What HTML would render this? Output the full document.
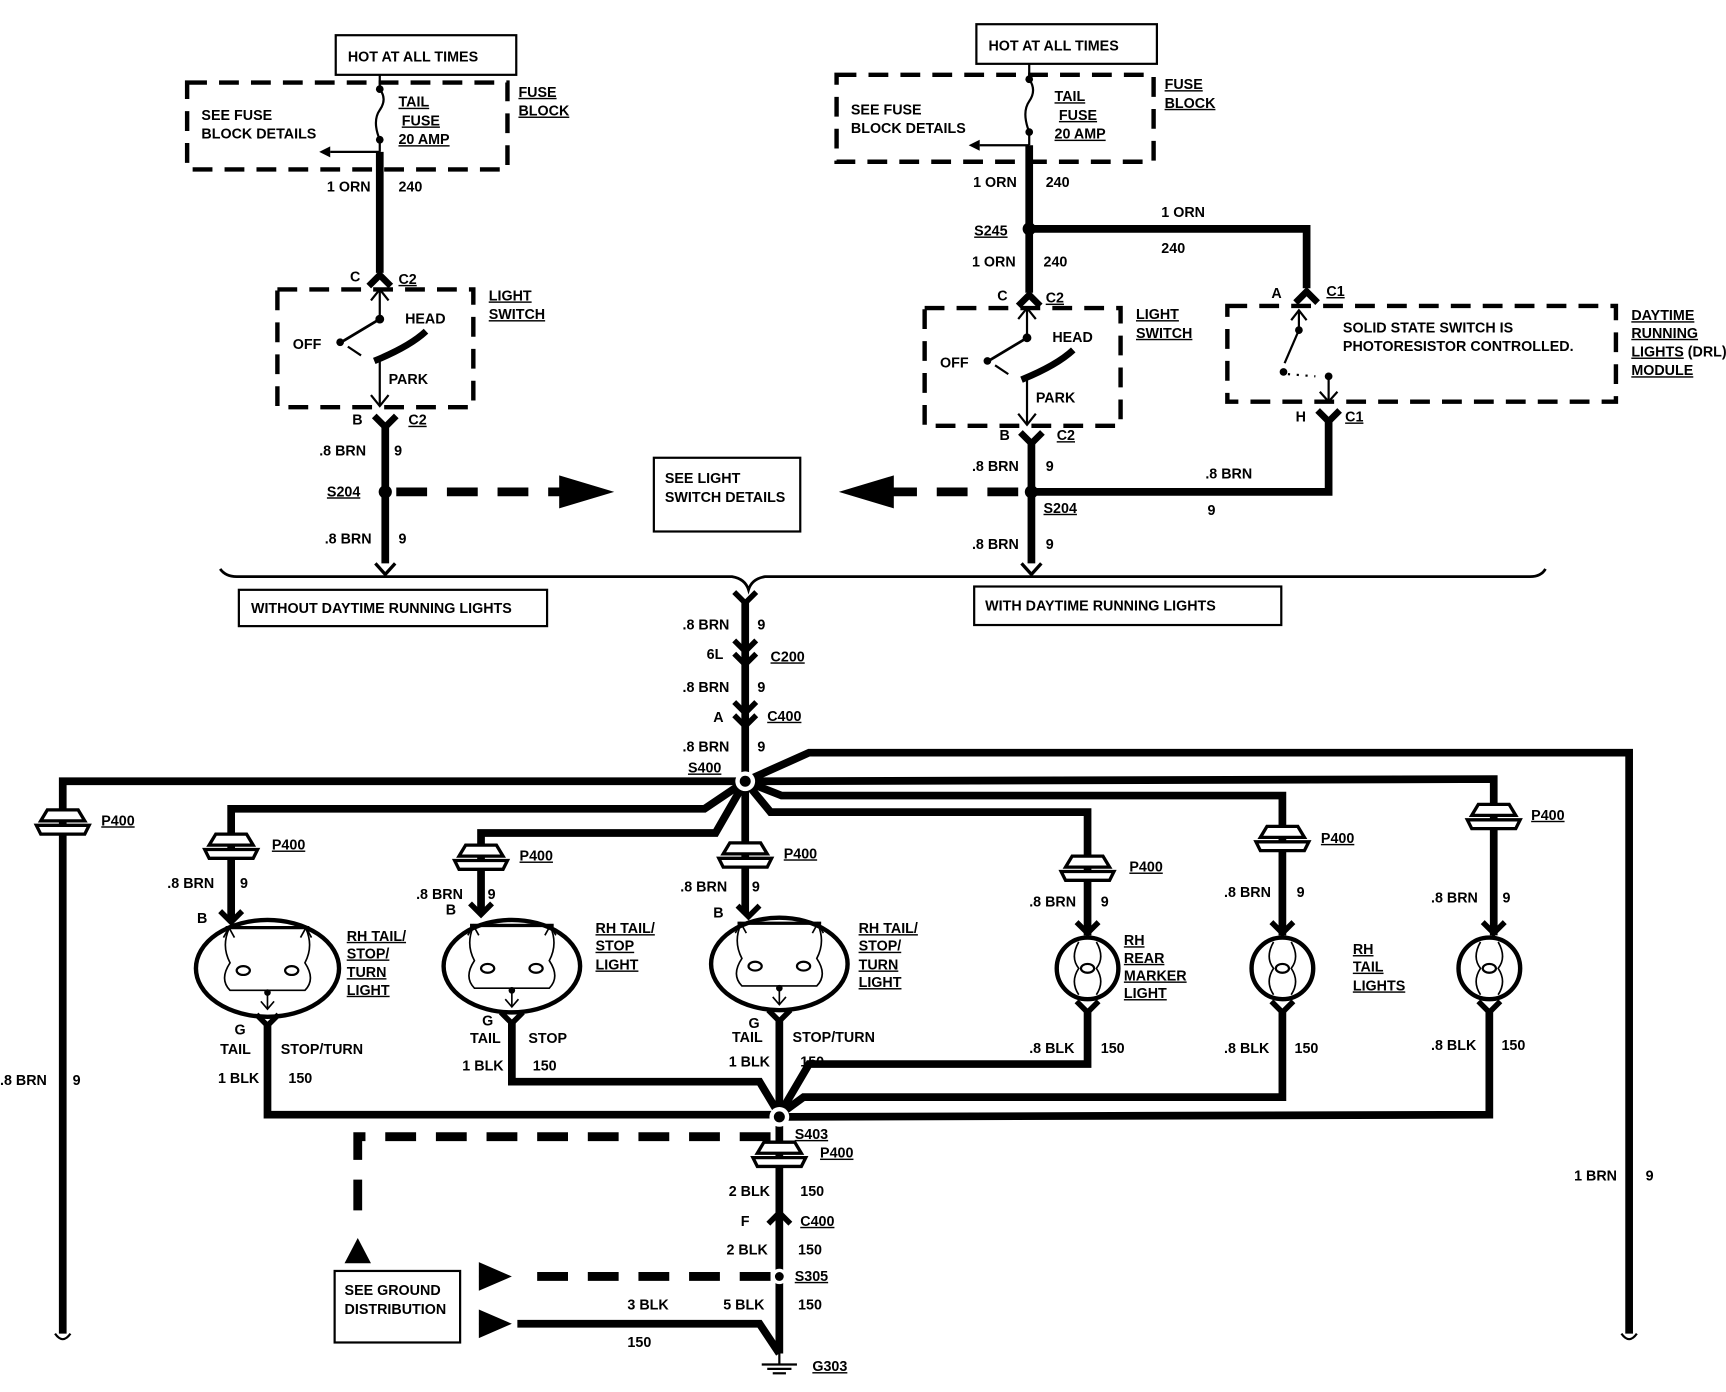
<!DOCTYPE html>
<html><head><meta charset="utf-8"><style>
html,body{margin:0;padding:0;background:#fff}
svg{display:block}
text{font-family:"Liberation Sans",sans-serif;font-weight:bold;font-size:13px;fill:#000}
.u{text-decoration:underline}
</style></head><body>
<svg width="1726" height="1392" viewBox="0 0 1568 1265" preserveAspectRatio="none" xmlns="http://www.w3.org/2000/svg">
<defs>
<g id="p4">
<path d="M-14,-12 L14,-12 L20,-2 L-20,-2 Z" fill="#fff" stroke="#000" stroke-width="3"/>
<path d="M-24,2 L24,2 L20,10 L-20,10 Z" fill="#fff" stroke="#000" stroke-width="3"/>
</g>
<g id="sw">
<rect x="0" y="0" width="178" height="107" fill="none" stroke="#000" stroke-width="4" stroke-dasharray="18,11"/>
<line x1="93" y1="0" x2="93" y2="27" stroke="#000" stroke-width="2"/>
<polyline points="85,10 93,0 101,10" fill="none" stroke="#000" stroke-width="2"/>
<circle cx="93" cy="27" r="4"/>
<line x1="93" y1="27" x2="58" y2="48" stroke="#000" stroke-width="2.5"/>
<circle cx="57" cy="48" r="3.5"/>
<line x1="64" y1="52" x2="76" y2="60" stroke="#000" stroke-width="2"/>
<path d="M88,65 Q120,52 135,38" fill="none" stroke="#000" stroke-width="6"/>
<line x1="93" y1="65" x2="93" y2="106" stroke="#000" stroke-width="2"/>
<polyline points="85,96 93,106 101,96" fill="none" stroke="#000" stroke-width="2"/>
<text x="14" y="54">OFF</text><text x="116" y="31">HEAD</text><text x="101" y="86">PARK</text>
</g>
<g id="lamp2">
<path d="M-38,-37 L38,-37" stroke="#000" stroke-width="3"/>
<path d="M-35,-36 Q-42,-20 -34,-5 Q-44,10 -34,20 L34,20 Q44,10 34,-5 Q42,-20 35,-36" fill="none" stroke="#000" stroke-width="1.5"/>
<ellipse cx="-22" cy="2" rx="6" ry="4" fill="none" stroke="#000" stroke-width="2"/>
<ellipse cx="22" cy="2" rx="6" ry="4" fill="none" stroke="#000" stroke-width="2"/>
<polyline points="-40,-28 -35,-37 -30,-28" fill="none" stroke="#000" stroke-width="1.5"/>
<polyline points="30,-28 35,-37 40,-28" fill="none" stroke="#000" stroke-width="1.5"/>
<line x1="0" y1="20" x2="0" y2="37" stroke="#000" stroke-width="1.5"/><circle cx="0" cy="22" r="3"/>
<polyline points="-6,30 0,37 6,30" fill="none" stroke="#000" stroke-width="1.5"/>
</g>
<g id="lamp1">
<circle r="28" fill="none" stroke="#000" stroke-width="4"/>
<path d="M-8,-24 Q-16,-10 -8,0 Q-16,12 -8,24 M8,-24 Q16,-10 8,0 Q16,12 8,24" fill="none" stroke="#000" stroke-width="1.5"/>
<ellipse cx="0" cy="0" rx="6" ry="4" fill="none" stroke="#000" stroke-width="2"/>
</g>
</defs>
<g fill="none" stroke="#000" stroke-linejoin="miter">
<rect x="305" y="32" width="164" height="36" stroke-width="2"/>
<rect x="170" y="75" width="291" height="79" stroke-width="4" stroke-dasharray="18,11"/>
<path d="M345,68 L345,81 Q352,90 345,100 Q338,110 345,127" stroke-width="2"/>
<line x1="345" y1="127" x2="345" y2="138" stroke-width="2"/>
<line x1="345" y1="138" x2="300" y2="138" stroke-width="2"/>
<line x1="345" y1="138" x2="345" y2="248" stroke-width="7"/>
<polyline points="335,260 345,250 355,260" stroke-width="6"/>
<line x1="350" y1="385" x2="350" y2="512" stroke-width="7"/>
<polyline points="340,378 350,388 360,378" stroke-width="6"/>
<line x1="360" y1="447" x2="525" y2="447" stroke-width="8" stroke-dasharray="28,18"/>
<polyline points="341,512 350,522 359,512" stroke-width="3"/>
<path d="M200,517 Q205,524 215,524 L665,524 Q677,526 680,536 Q683,526 695,524 L1390,524 Q1400,524 1404,517" stroke-width="2.5"/>
<rect x="217" y="536" width="280" height="33" stroke-width="2"/>
<rect x="594" y="416" width="133" height="67" stroke-width="2"/>
<rect x="887" y="22" width="164" height="36" stroke-width="2"/>
<rect x="760" y="68" width="288" height="79" stroke-width="4" stroke-dasharray="18,11"/>
<path d="M935,58 L935,72 Q942,82 935,92 Q928,102 935,120" stroke-width="2"/>
<line x1="935" y1="120" x2="935" y2="132" stroke-width="2"/>
<line x1="935" y1="132" x2="890" y2="132" stroke-width="2"/>
<line x1="935" y1="132" x2="935" y2="266" stroke-width="7"/>
<polyline points="935,208 1187,208 1187,262" stroke-width="7"/>
<polyline points="925,278 935,268 945,278" stroke-width="6"/>
<polyline points="1177,275 1187,265 1197,275" stroke-width="6"/>
<rect x="1115" y="278" width="353" height="87" stroke-width="4" stroke-dasharray="18,11"/>
<line x1="1180" y1="282" x2="1180" y2="300" stroke-width="2"/>
<polyline points="1173,291 1180,282 1187,291" stroke-width="2"/>
<line x1="1180" y1="300" x2="1167" y2="330" stroke-width="2"/>
<line x1="1170" y1="340" x2="1195" y2="342" stroke-width="2" stroke-dasharray="2,6"/>
<line x1="1207" y1="342" x2="1207" y2="365" stroke-width="2"/>
<polyline points="1199,356 1207,365 1215,356" stroke-width="2"/>
<polyline points="1197,373 1207,383 1217,373" stroke-width="6"/>
<polyline points="1207,383 1207,447 937,447" stroke-width="7"/>
<line x1="937" y1="400" x2="937" y2="512" stroke-width="7"/>
<polyline points="927,393 937,403 947,393" stroke-width="6"/>
<line x1="925" y1="447" x2="810" y2="447" stroke-width="8" stroke-dasharray="28,18"/>
<polyline points="928,512 937,522 946,512" stroke-width="3"/>
<rect x="885" y="533" width="279" height="35" stroke-width="2"/>
<line x1="677" y1="545" x2="677" y2="710" stroke-width="7"/>
<polyline points="667,538 677,548 687,538" stroke-width="5"/>
<polyline points="667,582 677,592 687,582" stroke-width="5"/>
<polyline points="667,594 677,604 687,594" stroke-width="5"/>
<polyline points="667,638 677,648 687,638" stroke-width="5"/>
<polyline points="667,650 677,660 687,650" stroke-width="5"/>
<g stroke-width="7">
<polyline points="677,710 57,710 57,1212"/>
<polyline points="677,710 735,684 1480,684 1480,1212"/>
<polyline points="677,710 640,735 210,735 210,835"/>
<polyline points="677,710 650,757 437,757 437,828"/>
<polyline points="677,710 677,830"/>
<polyline points="677,710 700,738 988,738 988,850"/>
<polyline points="677,710 710,723 1165,723 1165,850"/>
<polyline points="677,710 1357,708 1357,850"/>
</g>
<path d="M50,1212 Q57,1222 64,1212 M1473,1212 Q1480,1222 1487,1212" stroke-width="2"/>
<g stroke-width="5">
<polyline points="200,828 210,838 220,828"/><polyline points="427,821 437,831 447,821"/>
<polyline points="670,823 680,833 690,823"/><polyline points="978,838 988,848 998,838"/>
<polyline points="1155,838 1165,848 1175,838"/><polyline points="1347,838 1357,848 1367,838"/>
</g>
<ellipse cx="243" cy="880" rx="65" ry="44" stroke-width="4"/>
<ellipse cx="465" cy="878" rx="62" ry="42" stroke-width="4"/>
<ellipse cx="708" cy="876" rx="62" ry="42" stroke-width="4"/>
<g stroke-width="5">
<polyline points="233,922 243,932 253,922"/><polyline points="455,920 465,930 475,920"/>
<polyline points="698,918 708,928 718,918"/><polyline points="978,910 988,920 998,910"/>
<polyline points="1155,910 1165,920 1175,910"/><polyline points="1343,910 1353,920 1363,910"/>
</g>
<g stroke-width="7">
<polyline points="243,930 243,1013 705,1013"/>
<polyline points="465,928 465,983 690,983 708,1013"/>
<line x1="708" y1="926" x2="708" y2="1015"/>
<polyline points="988,918 988,967 735,967 708,1013"/>
<polyline points="1165,918 1165,997 730,997 708,1013"/>
<polyline points="1353,918 1353,1013 712,1015"/>
<line x1="708" y1="1015" x2="708" y2="1230"/>
<polyline points="470,1203 690,1203 708,1230"/>
</g>
<polyline points="700,1033 325,1033 325,1118" stroke-width="8" stroke-dasharray="28,18"/>
<line x1="700" y1="1160" x2="470" y2="1160" stroke-width="8" stroke-dasharray="28,18"/>
<polyline points="698,1112 708,1102 718,1112" stroke-width="5"/>
<rect x="304" y="1155" width="114" height="65" stroke-width="2"/>
<line x1="708" y1="1230" x2="708" y2="1240" stroke-width="2"/>
<line x1="692" y1="1240" x2="724" y2="1240" stroke-width="2"/>
<line x1="697" y1="1244" x2="719" y2="1244" stroke-width="2"/>
<line x1="702" y1="1248" x2="714" y2="1248" stroke-width="2"/>
</g>
<polygon points="508,432 558,447 508,462"/>
<polygon points="812,432 762,447 812,462"/>
<polygon points="313,1148 325,1125 337,1148"/>
<polygon points="435,1147 465,1160 435,1173"/>
<polygon points="435,1190 465,1203 435,1216"/>
<circle cx="345" cy="81" r="3.5"/><circle cx="345" cy="127" r="3.5"/>
<polygon points="300,133 290,138 300,143"/>
<circle cx="935" cy="72" r="3.5"/><circle cx="935" cy="120" r="3.5"/>
<polygon points="890,127 880,132 890,137"/>
<circle cx="350" cy="447" r="6"/><circle cx="935" cy="208" r="6"/><circle cx="937" cy="447" r="6"/>
<circle cx="1180" cy="300" r="3.5"/><circle cx="1166" cy="338" r="3.5"/><circle cx="1207" cy="342" r="3.5"/>
<circle cx="677" cy="710" r="9" fill="#fff"/><circle cx="677" cy="710" r="5"/>
<circle cx="708" cy="1015" r="9" fill="#fff"/><circle cx="708" cy="1015" r="5"/>
<circle cx="708" cy="1160" r="7" fill="#fff"/><circle cx="708" cy="1160" r="4"/>
<use href="#sw" x="252" y="263"/><use href="#sw" x="840" y="280"/>
<use href="#p4" x="57" y="748"/><use href="#p4" x="210" y="770"/><use href="#p4" x="437" y="780"/>
<use href="#p4" x="677" y="778"/><use href="#p4" x="988" y="790"/><use href="#p4" x="1165" y="763"/>
<use href="#p4" x="1357" y="743"/><use href="#p4" x="708" y="1050"/>
<use href="#lamp2" x="243" y="880"/><use href="#lamp2" x="465" y="878"/><use href="#lamp2" x="708" y="876"/>
<use href="#lamp1" x="988" y="880"/><use href="#lamp1" x="1165" y="880"/><use href="#lamp1" x="1353" y="880"/>
<text x="316" y="56">HOT AT ALL TIMES</text>
<text x="183" y="109">SEE FUSE</text><text x="183" y="126">BLOCK DETAILS</text>
<text x="362" y="97" class="u">TAIL</text><text x="365" y="114" class="u">FUSE</text><text x="362" y="131" class="u">20 AMP</text>
<text x="471" y="88" class="u">FUSE</text><text x="471" y="105" class="u">BLOCK</text>
<text x="297" y="174">1 ORN</text><text x="362" y="174">240</text>
<text x="318" y="256">C</text><text x="362" y="258" class="u">C2</text>
<text x="444" y="273" class="u">LIGHT</text><text x="444" y="290" class="u">SWITCH</text>
<text x="320" y="386">B</text><text x="371" y="386" class="u">C2</text>
<text x="290" y="414">.8 BRN</text><text x="358" y="414">9</text>
<text x="297" y="451" class="u">S204</text>
<text x="295" y="494">.8 BRN</text><text x="362" y="494">9</text>
<text x="228" y="557">WITHOUT DAYTIME RUNNING LIGHTS</text>
<text x="604" y="439">SEE LIGHT</text><text x="604" y="456">SWITCH DETAILS</text>
<text x="898" y="46">HOT AT ALL TIMES</text>
<text x="773" y="104">SEE FUSE</text><text x="773" y="121">BLOCK DETAILS</text>
<text x="958" y="92" class="u">TAIL</text><text x="962" y="109" class="u">FUSE</text><text x="958" y="126" class="u">20 AMP</text>
<text x="1058" y="81" class="u">FUSE</text><text x="1058" y="98" class="u">BLOCK</text>
<text x="884" y="170">1 ORN</text><text x="950" y="170">240</text>
<text x="885" y="214" class="u">S245</text>
<text x="1055" y="197">1 ORN</text><text x="1055" y="230">240</text>
<text x="883" y="242">1 ORN</text><text x="948" y="242">240</text>
<text x="906" y="273">C</text><text x="950" y="275" class="u">C2</text>
<text x="1155" y="271">A</text><text x="1205" y="269" class="u">C1</text>
<text x="1032" y="290" class="u">LIGHT</text><text x="1032" y="307" class="u">SWITCH</text>
<text x="1220" y="302">SOLID STATE SWITCH IS</text><text x="1220" y="319">PHOTORESISTOR CONTROLLED.</text>
<text x="1482" y="291" class="u">DAYTIME</text><text x="1482" y="307" class="u">RUNNING</text>
<text x="1482" y="324"><tspan class="u">LIGHTS</tspan> (DRL)</text><text x="1482" y="341" class="u">MODULE</text>
<text x="1177" y="383">H</text><text x="1222" y="383" class="u">C1</text>
<text x="908" y="400">B</text><text x="960" y="400" class="u">C2</text>
<text x="883" y="428">.8 BRN</text><text x="950" y="428">9</text>
<text x="1095" y="435">.8 BRN</text><text x="1097" y="468">9</text>
<text x="948" y="466" class="u">S204</text>
<text x="883" y="499">.8 BRN</text><text x="950" y="499">9</text>
<text x="895" y="555">WITH DAYTIME RUNNING LIGHTS</text>
<text x="620" y="572">.8 BRN</text><text x="688" y="572">9</text>
<text x="642" y="599">6L</text><text x="700" y="601" class="u">C200</text>
<text x="620" y="629">.8 BRN</text><text x="688" y="629">9</text>
<text x="648" y="656">A</text><text x="697" y="655" class="u">C400</text>
<text x="620" y="683">.8 BRN</text><text x="688" y="683">9</text>
<text x="625" y="702" class="u">S400</text>
<text x="92" y="750" class="u">P400</text><text x="247" y="772" class="u">P400</text>
<text x="472" y="782" class="u">P400</text><text x="712" y="780" class="u">P400</text>
<text x="1026" y="792" class="u">P400</text><text x="1200" y="766" class="u">P400</text>
<text x="1391" y="745" class="u">P400</text>
<text x="152" y="807">.8 BRN</text><text x="218" y="807">9</text><text x="179" y="839">B</text>
<text x="378" y="817">.8 BRN</text><text x="443" y="817">9</text><text x="405" y="831">B</text>
<text x="618" y="810">.8 BRN</text><text x="683" y="810">9</text><text x="648" y="834">B</text>
<text x="935" y="824">.8 BRN</text><text x="1000" y="824">9</text>
<text x="1112" y="815">.8 BRN</text><text x="1178" y="815">9</text>
<text x="1300" y="820">.8 BRN</text><text x="1365" y="820">9</text>
<text x="315" y="855" class="u">RH TAIL/</text><text x="315" y="871" class="u">STOP/</text><text x="315" y="888" class="u">TURN</text><text x="315" y="904" class="u">LIGHT</text>
<text x="541" y="848" class="u">RH TAIL/</text><text x="541" y="864" class="u">STOP</text><text x="541" y="881" class="u">LIGHT</text>
<text x="780" y="848" class="u">RH TAIL/</text><text x="780" y="864" class="u">STOP/</text><text x="780" y="881" class="u">TURN</text><text x="780" y="897" class="u">LIGHT</text>
<text x="1021" y="859" class="u">RH</text><text x="1021" y="875" class="u">REAR</text><text x="1021" y="891" class="u">MARKER</text><text x="1021" y="907" class="u">LIGHT</text>
<text x="1229" y="867" class="u">RH</text><text x="1229" y="883" class="u">TAIL</text><text x="1229" y="900" class="u">LIGHTS</text>
<text x="213" y="940">G</text><text x="200" y="958">TAIL</text><text x="255" y="958">STOP/TURN</text>
<text x="198" y="984">1 BLK</text><text x="262" y="984">150</text>
<text x="438" y="932">G</text><text x="427" y="948">TAIL</text><text x="480" y="948">STOP</text>
<text x="420" y="973">1 BLK</text><text x="484" y="973">150</text>
<text x="680" y="934">G</text><text x="665" y="947">TAIL</text><text x="720" y="947">STOP/TURN</text>
<text x="662" y="969">1 BLK</text><text x="727" y="969">150</text>
<text x="935" y="957">.8 BLK</text><text x="1000" y="957">150</text>
<text x="1112" y="957">.8 BLK</text><text x="1176" y="957">150</text>
<text x="1300" y="954">.8 BLK</text><text x="1364" y="954">150</text>
<text x="0" y="986">.8 BRN</text><text x="66" y="986">9</text>
<text x="1430" y="1073">1 BRN</text><text x="1495" y="1073">9</text>
<text x="722" y="1035" class="u">S403</text><text x="745" y="1052" class="u">P400</text>
<text x="662" y="1087">2 BLK</text><text x="727" y="1087">150</text>
<text x="673" y="1114">F</text><text x="727" y="1114" class="u">C400</text>
<text x="660" y="1140">2 BLK</text><text x="725" y="1140">150</text>
<text x="722" y="1164" class="u">S305</text>
<text x="313" y="1177">SEE GROUND</text><text x="313" y="1194">DISTRIBUTION</text>
<text x="570" y="1190">3 BLK</text><text x="657" y="1190">5 BLK</text><text x="725" y="1190">150</text>
<text x="570" y="1224">150</text>
<text x="738" y="1246" class="u">G303</text>
</svg>
</body></html>
